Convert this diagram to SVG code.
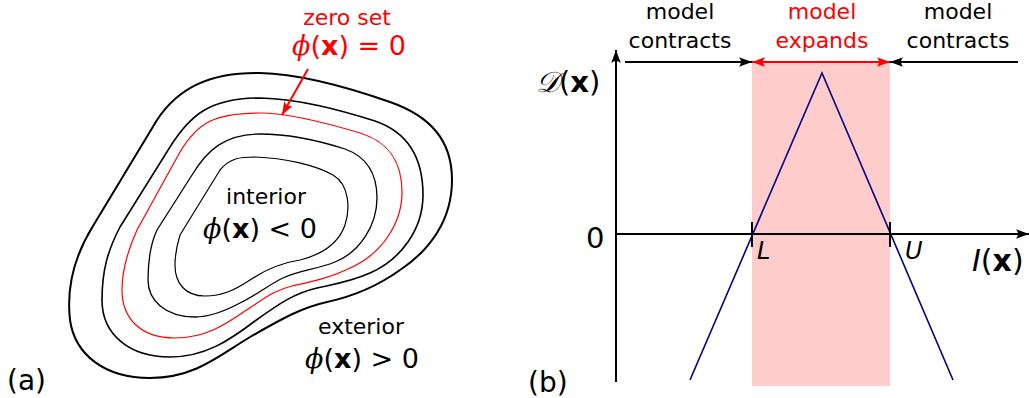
<svg xmlns="http://www.w3.org/2000/svg" width="1029" height="398" viewBox="0 0 1029 398">
<style>
text{font-family:"DejaVu Sans","Liberation Sans",sans-serif;}
.lbl{font-size:22px;fill:#000;}
.red{fill:#ff0000;}
.math{font-size:27px;}
.phi{font-family:"DejaVu Serif","Liberation Serif",serif;font-style:italic;}
.bx{font-weight:bold;}
.it{font-style:italic;}
.c{fill:none;stroke:#000;}
.ax{stroke:#000;stroke-width:2;fill:none;}
</style>
<defs>
<marker id="ahk" viewBox="-14 -6 15 12" refX="0" refY="0" markerWidth="15" markerHeight="12" markerUnits="userSpaceOnUse" orient="auto-start-reverse">
<path d="M0,0 L-13,-4.8 Q-9,0 -13,4.8 Z" fill="#000"/>
</marker>
<marker id="ahr" viewBox="-14 -6 15 12" refX="0" refY="0" markerWidth="15" markerHeight="12" markerUnits="userSpaceOnUse" orient="auto-start-reverse">
<path d="M0,0 L-13,-4.8 Q-9,0 -13,4.8 Z" fill="#ff0000"/>
</marker>
</defs>

<!-- Panel (a) -->
<g id="contours">
<path id="c1" class="c" stroke-width="2" d="M157,120 C178,88 210,72 260,73 C300,74 350,88 390,102 C430,116 452,140 452,180 C452,220 430,250 400,270 C375,288 350,297 327,302 C300,308 280,320 250,337 C220,355 195,378 150,378 C105,378 75,355 70,320 C66,285 75,255 93,226 Z"/>
<path id="c2" class="c" stroke-width="1.6" d="M120,227 L170,147 C190,115 210,98 260,98 C300,99 340,110 375,121 C410,133 423,160 423,195 C423,230 400,260 370,273 C350,282 330,285 317,288 C295,293 280,303 255,321 C230,340 205,357 170,357 C130,357 102,335 102,300 C102,270 108,250 120,227 Z"/>
<path id="c3" class="c" stroke="#ff0000" style="stroke:#ff0000" stroke-width="1.2" d="M137,230 L180,152 C198,122 215,113 260,113 C290,113 330,124 360,133 C392,143 402,165 402,192 C402,225 380,255 350,268 C330,278 310,282 292,286 C275,290 265,298 248,309 C225,325 205,338 175,338 C140,338 122,318 122,290 C122,270 128,250 137,230 Z"/>
<path id="c4" class="c" stroke-width="1.3" d="M157,230 L192,175 C207,150 225,134 260,134 C290,134 320,141 345,149 C370,158 377,178 377,198 C377,225 360,252 335,262 C315,270 300,270 283,278 C270,284 255,296 240,303 C225,311 210,317 195,317 C165,317 148,300 148,280 C148,262 150,245 157,230 Z"/>
<path id="c5" class="c" stroke-width="1.2" d="M180,235 L220,170 C230,158 240,157 255,157 C285,158 315,165 333,175 C350,185 350,210 345,225 C338,245 320,255 300,260 C280,263 265,270 250,280 C235,290 222,296 205,296 C185,296 175,283 175,265 C175,255 177,245 180,235 Z"/>
</g>

<g id="zero-set-label">
<text class="lbl red" x="347" y="25" text-anchor="middle">zero set</text>
<text class="math red" x="349" y="55" text-anchor="middle"><tspan class="phi">ϕ</tspan>(<tspan class="bx">x</tspan>) = 0</text>
</g>
<g id="interior-label">
<text class="lbl" x="266" y="204" text-anchor="middle">interior</text>
<text class="math" x="260" y="238" text-anchor="middle"><tspan class="phi">ϕ</tspan>(<tspan class="bx">x</tspan>) &lt; 0</text>
</g>
<g id="exterior-label">
<text class="lbl" x="361" y="334" text-anchor="middle">exterior</text>
<text class="math" x="362" y="368" text-anchor="middle"><tspan class="phi">ϕ</tspan>(<tspan class="bx">x</tspan>) &gt; 0</text>
</g>
<text x="7" y="390" font-size="28">(a)</text>

<!-- Panel (b) -->
<g id="band">
<rect x="752" y="61" width="138" height="325" fill="#ffcccc"/>
</g>
<g id="curve">
<polyline points="690,380 822,73 953,380" fill="none" stroke="#000080" stroke-width="1.6"/>
</g>

<g id="connectors">
<line id="red-zero-arrow" x1="308" y1="69" x2="282" y2="115" stroke="#ff0000" stroke-width="2" marker-end="url(#ahr)"/>
<line class="ax" x1="616" y1="382" x2="616" y2="50" marker-end="url(#ahk)"/>
<line class="ax" x1="616" y1="234" x2="1029" y2="234" marker-end="url(#ahk)"/>
<line class="ax" x1="752" y1="222" x2="752" y2="247"/>
<line class="ax" x1="890" y1="222" x2="890" y2="247"/>
<line class="ax" x1="625" y1="62" x2="752" y2="62" marker-end="url(#ahk)"/>
<line x1="752" y1="62" x2="890" y2="62" stroke="#ff0000" stroke-width="2" marker-start="url(#ahr)" marker-end="url(#ahr)"/>
<line class="ax" x1="1018" y1="62" x2="890" y2="62" marker-end="url(#ahk)"/>
</g>

<g id="labels-b">
<text class="lbl" x="680" y="19" text-anchor="middle">model</text>
<text class="lbl" x="680" y="48" text-anchor="middle">contracts</text>
<text class="lbl red" x="822" y="19" text-anchor="middle">model</text>
<text class="lbl red" x="822" y="48" text-anchor="middle">expands</text>
<text class="lbl" x="958" y="19" text-anchor="middle">model</text>
<text class="lbl" x="958" y="48" text-anchor="middle">contracts</text>
<text x="536" y="92" font-size="29"><tspan class="phi">𝒟</tspan>(<tspan class="bx">x</tspan>)</text>
<text x="586" y="248" font-size="29">0</text>
<text class="it" x="757" y="259" font-size="24">L</text>
<text class="it" x="905" y="259" font-size="24">U</text>
<text x="972" y="271" font-size="30"><tspan class="it">I</tspan>(<tspan class="bx">x</tspan>)</text>
<text x="528" y="392" font-size="28">(b)</text>
</g>
</svg>
